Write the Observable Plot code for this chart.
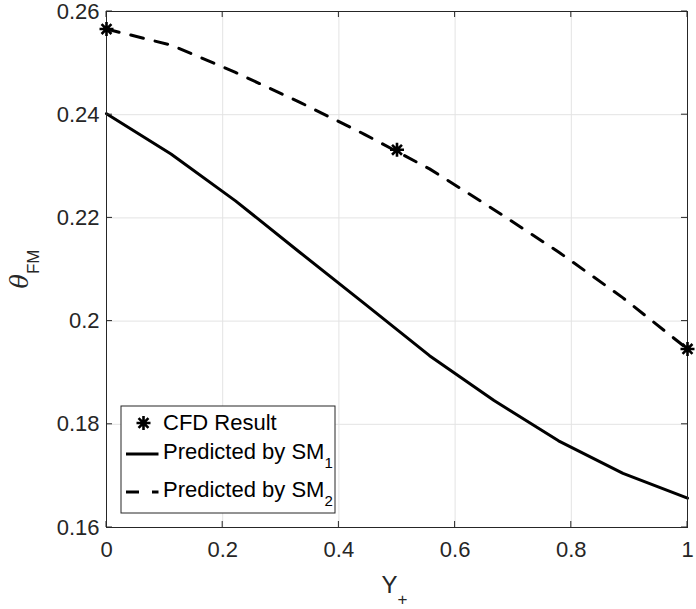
<!DOCTYPE html>
<html><head><meta charset="utf-8">
<script src="https://cdn.jsdelivr.net/npm/d3@7"></script>
<script src="https://cdn.jsdelivr.net/npm/@observablehq/plot@0.6"></script>
<style>
body{margin:0;background:#fff}
#chart{position:relative;width:696px;height:609px}
</style>
</head><body><div id="chart"></div>
<script>
// ---- data ----
const yPlus = [0, 0.111, 0.222, 0.333, 0.444, 0.556, 0.667, 0.778, 0.889, 1];
const thetaSM1 = [0.2402, 0.2324, 0.2233, 0.2133, 0.2034, 0.1933, 0.1846, 0.1768, 0.1705, 0.1657];
const thetaSM2 = [0.2566, 0.2535, 0.2482, 0.2424, 0.2362, 0.2295, 0.2216, 0.2134, 0.2045, 0.1946];
const cfdYPlus = [0, 0.5, 1];
const cfdTheta = [0.2566, 0.2332, 0.1946];
const xTicks = [0, 0.2, 0.4, 0.6, 0.8, 1];
const xTickLabels = ["0", "0.2", "0.4", "0.6", "0.8", "1"];
const yTicks = [0.16, 0.18, 0.2, 0.22, 0.24, 0.26];
const yTickLabels = ["0.16", "0.18", "0.2", "0.22", "0.24", "0.26"];
const legendNames = ["CFD Result", "Predicted by SM", "Predicted by SM"];
const legendSubs = ["", "1", "2"];

const sm1 = yPlus.map((x, i) => ({x, y: thetaSM1[i]}));
const sm2 = yPlus.map((x, i) => ({x, y: thetaSM2[i]}));
const cfd = cfdYPlus.map((x, i) => ({x, y: cfdTheta[i]}));

const FONT = "'Liberation Sans', Arial, Helvetica, sans-serif";
const TXT = "#262626";

const asterisk = {
  draw(ctx, size) {
    const r = Math.sqrt(size / Math.PI);
    const d = r * Math.SQRT1_2;
    ctx.moveTo(0, -r); ctx.lineTo(0, r);
    ctx.moveTo(-r, 0); ctx.lineTo(r, 0);
    ctx.moveTo(-d, -d); ctx.lineTo(d, d);
    ctx.moveTo(-d, d); ctx.lineTo(d, -d);
  }
};

const chart = Plot.plot({
  width: 696, height: 609,
  marginLeft: 106, marginRight: 9, marginTop: 11, marginBottom: 82,
  style: {fontFamily: FONT, color: TXT, background: "#fff"},
  x: {domain: [0, 1]},
  y: {domain: [0.16, 0.26]},
  marks: [
    Plot.gridX(xTicks, {stroke: "#e3e3e3", strokeOpacity: 1}),
    Plot.gridY(yTicks, {stroke: "#e3e3e3", strokeOpacity: 1}),
    Plot.axisX(xTicks, {tickSize: 0, tickPadding: 14, fontSize: 22, fill: TXT,
      tickFormat: d => xTickLabels[xTicks.indexOf(d)], label: null}),
    Plot.axisY(yTicks, {tickSize: 0, tickPadding: 7, fontSize: 22, fill: TXT,
      tickFormat: d => yTickLabels[yTicks.indexOf(d)], label: null}),
    Plot.line(sm1, {x: "x", y: "y", stroke: "#000", strokeWidth: 3}),
    Plot.line(sm2, {x: "x", y: "y", stroke: "#000", strokeWidth: 3, strokeDasharray: "13,12"}),
    Plot.frame({stroke: "#262626", strokeWidth: 1}),
    Plot.dot(cfd, {x: "x", y: "y", symbol: asterisk, r: 7, stroke: "#000", strokeWidth: 2.6, fill: "none"})
  ]
});

const svg = d3.select(chart);
const sx = chart.scale("x"), sy = chart.scale("y");
const [x0, x1] = sx.range, [y0, y1] = sy.range; // y0 bottom, y1 top
const g = svg.append("g").attr("stroke", "#262626").attr("stroke-width", 1);
const TL = 6;
xTicks.forEach(t => {
  const px = sx.apply(t);
  g.append("line").attr("x1", px).attr("x2", px).attr("y1", y0).attr("y2", y0 - TL);
  g.append("line").attr("x1", px).attr("x2", px).attr("y1", y1).attr("y2", y1 + TL);
});
yTicks.forEach(t => {
  const py = sy.apply(t);
  g.append("line").attr("y1", py).attr("y2", py).attr("x1", x0).attr("x2", x0 + TL);
  g.append("line").attr("y1", py).attr("y2", py).attr("x1", x1).attr("x2", x1 - TL);
});

// axis labels
const xl = svg.append("text").attr("x", (x0 + x1) / 2 - 2).attr("y", y0 + 66)
  .attr("text-anchor", "middle").attr("fill", TXT).style("font-family", FONT).style("font-size", "24px");
xl.append("tspan").text("Y");
xl.append("tspan").attr("dy", 12).style("font-size", "17px").text("+");

const yl = svg.append("text")
  .attr("transform", `translate(28,${(y0 + y1) / 2}) rotate(-90)`)
  .attr("text-anchor", "middle").attr("fill", TXT).style("font-family", FONT).style("font-size", "24px");
yl.append("tspan").style("font-family", "'DejaVu Serif', 'Liberation Serif', serif").style("font-style", "italic").text("θ");
yl.append("tspan").attr("dy", 11).style("font-size", "17px").text("FM");

// legend
const lg = svg.append("g").attr("transform", `translate(${x0 + 15},${y0 - 121})`).attr("text-anchor", "start");
lg.append("rect").attr("x", 0).attr("y", 0).attr("width", 214).attr("height", 107)
  .attr("fill", "#fff").attr("stroke", "#262626").attr("stroke-width", 1);
const rowY = [17, 48, 86];
lg.append("path").attr("d", d3.symbol(asterisk, Math.PI * 7 * 7)())
  .attr("transform", `translate(22.5,${rowY[0]})`).attr("stroke", "#000").attr("stroke-width", 2.6).attr("fill", "none");
lg.append("line").attr("x1", 5).attr("x2", 37.5).attr("y1", rowY[1]).attr("y2", rowY[1]).attr("stroke", "#000").attr("stroke-width", 3);
lg.append("line").attr("x1", 5).attr("x2", 37.5).attr("y1", rowY[2]).attr("y2", rowY[2]).attr("stroke", "#000").attr("stroke-width", 3).attr("stroke-dasharray", "13,13");
legendNames.forEach((name, i) => {
  const t = lg.append("text").attr("x", 42).attr("y", rowY[i] + (i === 0 ? 7 : 5))
    .attr("text-anchor", "start")
    .attr("fill", "#000").style("font-family", FONT).style("font-size", "22px");
  t.append("tspan").text(name);
  if (legendSubs[i]) t.append("tspan").attr("dy", 9).style("font-size", "15px").text(legendSubs[i]);
});

document.getElementById("chart").appendChild(chart);
</script>
</body></html>
